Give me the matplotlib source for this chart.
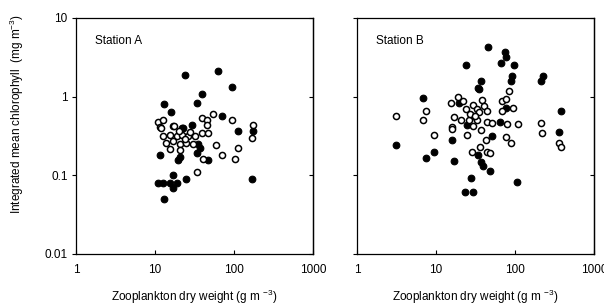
"""Zooplankton dry weight vs integrated chlorophyll, stations A and B."""
import matplotlib
matplotlib.use("Agg")
import matplotlib.pyplot as plt

plt.rcParams["font.family"] = ["Liberation Sans", "DejaVu Sans"]
plt.rcParams["mathtext.fontset"] = "custom"
plt.rcParams["mathtext.rm"] = "Liberation Sans"
plt.rcParams["mathtext.it"] = "Liberation Sans"

# Station A (x: g m-3, y: mg m-3)
a_open_x = [11, 12.7, 11.6, 17, 39, 46, 55, 93, 173, 45, 11.9, 17.4, 12.5, 15.5,
            18.8, 21.8, 26.4, 32, 39, 47, 13.8, 17, 20.7, 25, 30.5, 15.5, 20.7,
            60, 70, 111, 103, 41, 33.7, 168, 20, 24, 28]
a_open_y = [0.48, 0.50, 0.41, 0.42, 0.53, 0.50, 0.60, 0.51, 0.44, 0.44, 0.40, 0.42,
            0.32, 0.33, 0.32, 0.33, 0.32, 0.32, 0.35, 0.35, 0.26, 0.27, 0.25, 0.26,
            0.25, 0.215, 0.21, 0.24, 0.18, 0.22, 0.16, 0.16, 0.11, 0.30, 0.37, 0.29, 0.36]
a_fill_x = [24, 62, 93, 39, 34, 13, 16, 71, 22, 29, 111, 22.3, 173, 11.6, 19.7,
            20.7, 33.7, 37, 47, 17, 11, 12.7, 15.5, 18.8, 16.7, 24.6, 13.1, 168, 35]
a_fill_y = [1.9, 2.1, 1.34, 1.07, 0.84, 0.80, 0.64, 0.57, 0.40, 0.44, 0.37, 0.40,
            0.37, 0.18, 0.155, 0.17, 0.19, 0.22, 0.155, 0.10, 0.079, 0.079, 0.079,
            0.079, 0.070, 0.089, 0.050, 0.089, 0.25]

# Station B
b_open_x = [3.1, 7.5, 6.9, 15.5, 19, 22, 24, 29.6, 38, 33, 40, 44, 35, 69, 76, 84,
            69, 95, 17, 21, 26, 33, 44, 51, 80, 108, 213, 15.8, 9.5, 15.8, 24.4,
            29.7, 36.7, 217, 77, 89, 42.6, 36, 28.8, 44, 48, 364, 382, 27, 31]
b_open_y = [0.56, 0.65, 0.50, 0.82, 1.0, 0.89, 0.70, 0.78, 0.91, 0.70, 0.75, 0.66,
            0.63, 0.87, 0.94, 1.19, 0.66, 0.71, 0.55, 0.51, 0.51, 0.51, 0.47, 0.46,
            0.45, 0.45, 0.46, 0.41, 0.33, 0.39, 0.33, 0.43, 0.38, 0.35, 0.31, 0.26,
            0.28, 0.23, 0.20, 0.20, 0.19, 0.256, 0.23, 0.60, 0.57]
b_fill_x = [45, 75, 76, 66.5, 98, 24, 91, 89, 224, 211, 37, 34, 35.5, 6.9, 19.7,
            382, 76, 29, 24.4, 65, 3.1, 7.5, 9.5, 15.8, 16.9, 51, 34, 36.7, 39, 48,
            27.7, 23.3, 29, 107, 364]
b_fill_y = [4.24, 3.73, 3.22, 2.68, 2.55, 2.55, 1.85, 1.6, 1.85, 1.6, 1.6, 1.28,
            1.26, 0.95, 0.83, 0.65, 0.71, 0.57, 0.44, 0.47, 0.24, 0.165, 0.196, 0.28,
            0.154, 0.32, 0.183, 0.147, 0.133, 0.113, 0.092, 0.062, 0.062, 0.082, 0.36]

STATIONS = [
    ("Station A", a_open_x, a_open_y, a_fill_x, a_fill_y),
    ("Station B", b_open_x, b_open_y, b_fill_x, b_fill_y),
]

fig = plt.figure(figsize=(6.04, 3.08), dpi=100)
lefts = [76 / 604, 357 / 604]
W, H, B = 237 / 604, 236 / 308, 54 / 308

for i, (name, ox, oy, fx, fy) in enumerate(STATIONS):
    ax = fig.add_axes([lefts[i], B, W, H])
    ax.set_xscale("log")
    ax.set_yscale("log")
    ax.plot(fx, fy, "o", ms=4.8, mfc="black", mec="black", mew=0.8, ls="none")
    ax.plot(ox, oy, "o", ms=4.4, mfc="white", mec="black", mew=1.1, ls="none")
    ax.set_xlim(1, 1000)
    ax.set_ylim(0.01, 10)
    ax.set_xticks([1, 10, 100, 1000])
    ax.set_xticklabels(["1", "10", "100", "1000"])
    ax.set_yticks([0.01, 0.1, 1, 10])
    ax.minorticks_off()
    if i == 0:
        ax.set_yticklabels(["0.01", "0.1", "1", "10"])
    else:
        ax.set_yticklabels([])
    ax.tick_params(axis="y", direction="out", length=3, width=0.8, labelsize=8.5, pad=3)
    ax.tick_params(axis="x", direction="in", length=3, width=0.8, labelsize=8.5, pad=7)
    # inward ticks on the right edge
    rax = ax.secondary_yaxis("right")
    rax.set_yticks([0.01, 0.1, 1, 10])
    rax.minorticks_off()
    rax.tick_params(direction="in", length=3, width=0.8, labelright=False)
    for s in list(ax.spines.values()) + [rax.spines["right"]]:
        s.set_linewidth(0.9)
    ax.text(0.08, 0.89, name, transform=ax.transAxes, fontsize=8.5)
    ax.set_xlabel("Zooplankton dry weight (g m $^{-3}$)", fontsize=8.5, labelpad=9)

fig.text(0.028, 0.63, "Integrated mean chlorophyll  (mg m$^{-3}$)", rotation=90,
         ha="center", va="center", fontsize=8.5)

fig.savefig("out.png", dpi=100)
